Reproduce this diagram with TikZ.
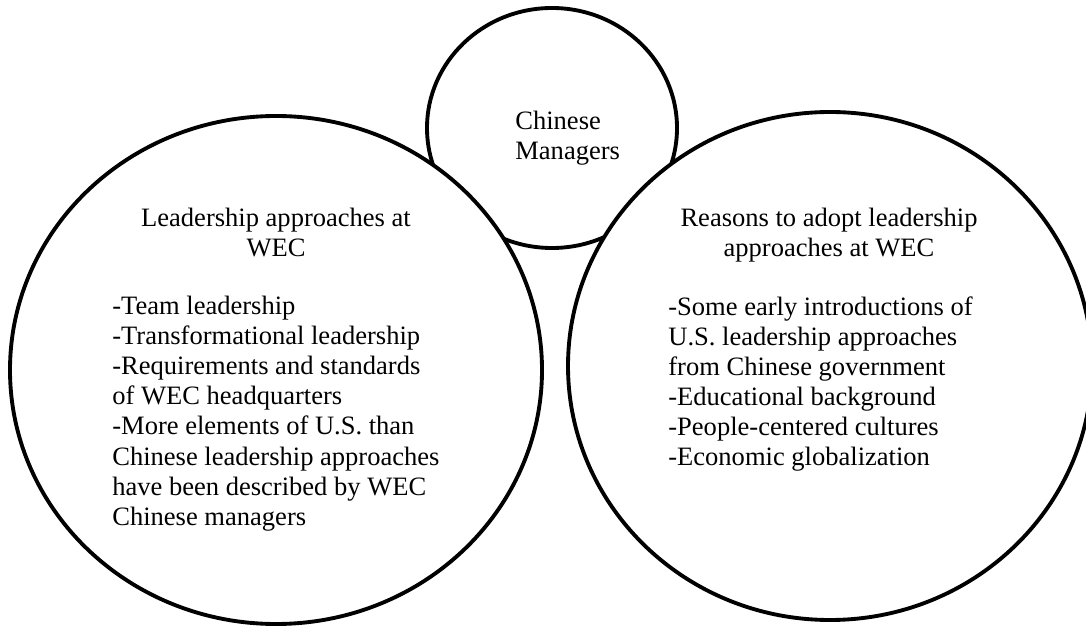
\documentclass[tikz,border=0pt]{standalone}
\usepackage{fontspec}
\setmainfont{Liberation Serif}
\usetikzlibrary{shapes.geometric,positioning}

\begin{document}
\begin{tikzpicture}[ring/.style={ellipse,draw,line width=2.2pt,fill=white,inner sep=0pt},
    txt/.style={inner sep=0pt,font=\fontsize{15.1}{17.1}\selectfont}]
  \useasboundingbox (0,0) rectangle (21.72,12.5);
  \node[ring,minimum width=5cm,minimum height=4.8cm] (mgr) at (11.04,9.94) {};
  \node[ring,minimum width=10.64cm,minimum height=10.16cm] (lead) at (5.52,5.1) {};
  \node[ring,minimum width=10.48cm,minimum height=10.16cm] (reason) at (16.6,5.18) {};
  \node[txt,align=left,anchor=north west] (mgrtxt) at (10.3,10.28) {Chinese\\Managers};
  \node[txt,align=center,anchor=north] (leadhead) at (5.52,8.34) {Leadership approaches at\\WEC};
  \node[txt,align=left,anchor=north west] (leadlist) at (2.24,6.58) {-Team leadership\\-Transformational leadership\\-Requirements and standards\\of WEC headquarters\\-More elements of U.S. than\\Chinese leadership approaches\\have been described by WEC\\Chinese managers};
  \node[txt,align=center,anchor=north] (reasonhead) at (16.58,8.34) {Reasons to adopt leadership\\approaches at WEC};
  \node[txt,align=left,anchor=north west] (reasonlist) at (13.36,6.58) {-Some early introductions of\\U.S. leadership approaches\\from Chinese government\\-Educational background\\-People-centered cultures\\-Economic globalization};
\end{tikzpicture}
\end{document}
